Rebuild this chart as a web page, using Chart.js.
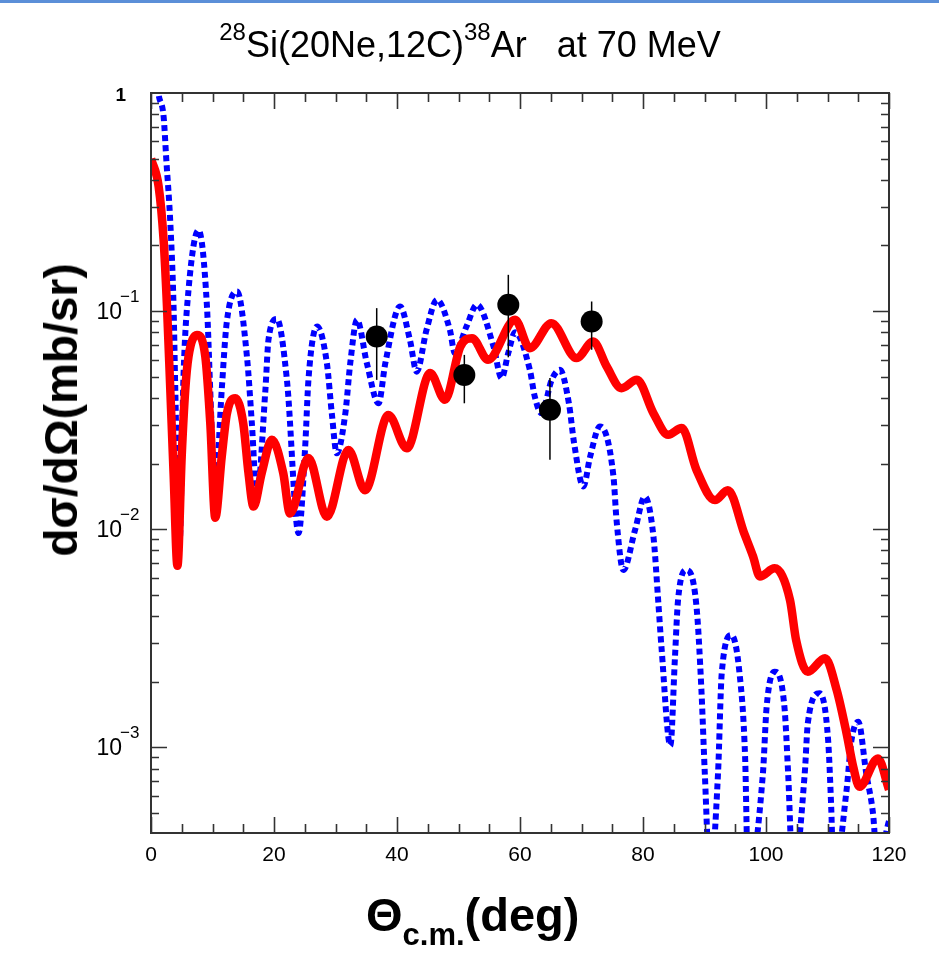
<!DOCTYPE html>
<html>
<head>
<meta charset="utf-8">
<script src="https://cdn.jsdelivr.net/npm/chart.js@4.4.0/dist/chart.umd.min.js"></script>
<style>
  html, body { margin: 0; padding: 0; background: #fff; }
  body { width: 939px; height: 976px; position: relative; overflow: hidden; font-family: 'Liberation Sans', Arial, sans-serif; color: #000; }
  .topbar { position: absolute; left: 0; top: 0; width: 939px; height: 3px; background: #5b8fd8; }
  #plot { position: absolute; left: 0; top: 0; }
  .title { position: absolute; left: 470px; top: 27px; transform: translateX(-50%); white-space: nowrap; font-size: 36px; line-height: 36px; }
  .title .sup { font-size: 24px; position: relative; top: -17px; }
  .ytitle { position: absolute; left: 61px; top: 410px; transform: translate(-50%, -50%) rotate(-90deg); white-space: nowrap; font-size: 46px; font-weight: bold; line-height: 46px; }
  .xtitle { position: absolute; left: 366px; top: 891px; white-space: nowrap; font-size: 47px; font-weight: bold; line-height: 47px; }
  .xtitle .sub { font-size: 31px; position: relative; top: 14px; }
</style>
</head>
<body>
<div class="topbar"></div>
<canvas id="plot" width="939" height="976"></canvas>
<div class="title"><span class="sup">28</span>Si(20Ne,12C)<span class="sup">38</span>Ar&nbsp;&nbsp;&nbsp;at 70 MeV</div>
<div class="ytitle">dσ/dΩ(mb/sr)</div>
<div class="xtitle">Θ<span class="sub">c.m.</span>(deg)</div>
<script>
// measured angular distribution (deg, mb/sr) with vertical error bars
const expAngle = [36.7, 50.95, 58.1, 64.87, 71.65];
const expValue = [0.0765, 0.0510, 0.1069, 0.0353, 0.0896];
const expLow   = [0.0484, 0.0378, 0.0614, 0.0208, 0.0665];
const expHigh  = [0.1032, 0.0630, 0.1467, 0.0493, 0.1107];

// solid red calculation
const redAngle = [0, 1.24, 2.05, 2.6, 3.14, 3.67, 4.3, 4.99, 5.57, 6.1, 7.47, 8.83, 9.64, 10.45,
  11.5, 12.35, 13.7, 15.0, 15.85, 16.67, 18.0, 19.66, 21.5, 22.6, 25.6, 28.6, 32.1, 34.8,
  38.6, 41.6, 45.4, 47.8, 50.3, 52.2, 54.8, 59.2, 61.6, 65.1, 69.2, 71.9, 74.1, 76.5, 79.0,
  81.7, 84.1, 86.3, 88.7, 91.7, 93.8, 96.5, 97.9, 99.0, 101.4, 103.9, 104.9, 106.8, 109.6,
  111.5, 113.1, 114.2, 115.2, 118.2, 120];
const redValue = [0.50, 0.373, 0.212, 0.105, 0.0435, 0.0181, 0.0068, 0.0215, 0.0435, 0.0619, 0.0778, 0.0619, 0.0306, 0.0113,
  0.0215, 0.034, 0.0399, 0.0306, 0.0181, 0.0127, 0.0181, 0.0257, 0.0181, 0.0118, 0.0212, 0.0114, 0.0231, 0.0151,
  0.0334, 0.0235, 0.052, 0.0392, 0.0688, 0.0752, 0.0598, 0.0912, 0.0676, 0.0881, 0.0609, 0.0726, 0.0557, 0.0443, 0.0484,
  0.034, 0.0271, 0.0291, 0.0187, 0.0136, 0.0151, 0.0095, 0.0075, 0.00607, 0.00662, 0.00474, 0.0031, 0.00222, 0.00256,
  0.00183, 0.00116, 0.00081, 0.00066, 0.00089, 0.00064];

// dotted blue calculation
const blueAngle = [0, 0.6, 1.2, 2.05, 2.49, 3.14, 3.67, 3.95, 4.6, 5.3, 6.1, 7.73, 9.1, 9.63, 10.4,
  11.5, 12.3, 14.0, 15.6, 16.4, 17.2, 18.6, 19.1, 20.47, 22.1, 24.0, 25.07, 25.6, 27.0,
  28.6, 29.4, 30.2, 31.6, 32.4, 33.5, 35.1, 37.0, 38.1, 40.5, 42.1, 43.2, 44.8, 46.5,
  48.6, 49.4, 51.3, 53.0, 55.7, 57.0, 58.1, 59.2, 61.6, 62.4, 63.5, 65.15, 66.5,
  67.95, 68.8, 70.3, 71.4, 73.0, 75.2, 75.7, 76.8, 78.7, 80.3, 81.7, 82.5, 83.0, 84.45,
  85.2, 85.7, 87.1, 88.7, 89.5, 90.05, 90.9, 92.2, 92.8, 94.4, 95.7, 96.6, 97.1,
  99.5, 100.1, 101.4, 103.0, 103.6, 104.4, 106.3, 106.8, 108.7, 110.1, 110.6, 111.0,
  113.1, 113.9, 115.0, 116.3, 117.4, 118.1, 120];
const blueValue = [2.5, 1.5, 1.0, 0.78, 0.494, 0.254, 0.105, 0.0435, 0.008, 0.052, 0.125, 0.235, 0.105, 0.0435, 0.0144,
  0.0435, 0.088, 0.123, 0.0619, 0.0306, 0.0142, 0.0435, 0.0738, 0.092, 0.0484, 0.0096, 0.0239, 0.0484, 0.085,
  0.0577, 0.034, 0.0223, 0.034, 0.0577, 0.0912, 0.0577, 0.0378, 0.0577, 0.105, 0.0738, 0.0528, 0.082, 0.1127,
  0.082, 0.0642, 0.085, 0.107, 0.0688, 0.0493, 0.0643, 0.08, 0.0538, 0.0406, 0.034, 0.0484, 0.0538,
  0.0378, 0.0248, 0.0157, 0.0215, 0.0296, 0.0174, 0.011, 0.0065, 0.0099, 0.0141, 0.00925, 0.00458, 0.00289, 0.00102,
  0.0026, 0.00474, 0.0065, 0.00442, 0.00183, 0.00076, 0.00025, 0.00076, 0.00218, 0.00327, 0.00218, 0.000906, 0.00025,
  0.00076, 0.00153, 0.00222, 0.00153, 0.00076, 0.00025, 0.00076, 0.00129, 0.00177, 0.00108, 0.000534, 0.00025,
  0.000637, 0.00108, 0.00131, 0.00076, 0.000498, 0.0003, 0.00046];

// axis setup
const xMin = 0, xMax = 120;
const yMin = 4.05e-4, yMax = 1;
const xTickLabels = [0, 20, 40, 60, 80, 100, 120];
const xMinorStep = 5;
const yDecades = [1, 0.1, 0.01, 0.001];
const yDecadeLabels = ['1', '10|-1', '10|-2', '10|-3'];

const toPoints = (xs, ys) => xs.map((x, i) => ({ x: x, y: ys[i] }));

const FONT = "'Liberation Sans', Arial, sans-serif";

// frame, inward ticks on all four sides, y labels and error bars
const framePlugin = {
  id: 'frame',
  afterDatasetsDraw(chart) {
    const ctx = chart.ctx;
    const xs = chart.scales.x, ys = chart.scales.y;
    ctx.save();
    ctx.strokeStyle = '#000';
    ctx.lineWidth = 1.5;
    for (let i = 0; i < expAngle.length; i++) {
      const px = xs.getPixelForValue(expAngle[i]);
      ctx.beginPath();
      ctx.moveTo(px, ys.getPixelForValue(expHigh[i]));
      ctx.lineTo(px, ys.getPixelForValue(expLow[i]));
      ctx.stroke();
    }
    ctx.restore();
  },
  afterDraw(chart) {
    const ctx = chart.ctx;
    const a = chart.chartArea;
    const xs = chart.scales.x, ys = chart.scales.y;
    ctx.save();
    ctx.strokeStyle = '#333';
    ctx.lineWidth = 2;
    ctx.strokeRect(a.left, a.top, a.right - a.left, a.bottom - a.top);

    ctx.beginPath();
    for (let v = xMin; v <= xMax; v += xMinorStep) {
      const px = Math.round(xs.getPixelForValue(v)) + 0.5;
      const len = xTickLabels.includes(v) ? 16 : 9;
      ctx.moveTo(px, a.bottom); ctx.lineTo(px, a.bottom - len);
      ctx.moveTo(px, a.top); ctx.lineTo(px, a.top + len);
    }
    for (const d of yDecades) {
      for (let m = 1; m <= 9; m++) {
        const v = d * m / 10;
        if (v < yMin || v > yMax) continue;
        const py = Math.round(ys.getPixelForValue(v)) + 0.5;
        const len = m === 1 ? 16 : 8;
        ctx.moveTo(a.left, py); ctx.lineTo(a.left + len, py);
        ctx.moveTo(a.right, py); ctx.lineTo(a.right - len, py);
      }
    }
    ctx.lineWidth = 1.6;
    ctx.stroke();

    // decade labels: "10" with raised exponent
    ctx.fillStyle = '#000';
    ctx.textBaseline = 'alphabetic';
    yDecades.forEach((d, i) => {
      const py = ys.getPixelForValue(d);
      const parts = yDecadeLabels[i].split('|');
      if (parts.length === 1) {
        ctx.font = 'bold 19px ' + FONT;
        ctx.textAlign = 'right';
        ctx.fillText(parts[0], 126, py + 8);
        return;
      }
      ctx.font = '23px ' + FONT;
      ctx.textAlign = 'right';
      ctx.fillText(parts[0], 122, py + 8);
      ctx.font = '17px ' + FONT;
      ctx.textAlign = 'left';
      ctx.fillText(parts[1].replace('-', '\u2212'), 120, py - 9);
    });
    ctx.restore();
  }
};

new Chart(document.getElementById('plot'), {
  type: 'line',
  data: {
    datasets: [
      {
        label: 'data',
        data: toPoints(expAngle, expValue),
        showLine: false,
        pointRadius: 11,
        pointBackgroundColor: '#000',
        pointBorderWidth: 0,
        order: 0
      },
      {
        label: 'red',
        data: toPoints(redAngle, redValue),
        borderColor: '#ff0000',
        borderWidth: 8.5,
        borderJoinStyle: 'round',
        pointRadius: 0,
        cubicInterpolationMode: 'monotone',
        clip: 0,
        order: 1
      },
      {
        label: 'blue',
        data: toPoints(blueAngle, blueValue),
        borderColor: '#0000ff',
        borderWidth: 6,
        borderDash: [6, 4],
        pointRadius: 0,
        cubicInterpolationMode: 'monotone',
        clip: 0,
        order: 2
      }
    ]
  },
  options: {
    responsive: false,
    animation: false,
    devicePixelRatio: 1,
    layout: { padding: { top: 93, right: 50, left: 0, bottom: 0 } },
    plugins: { legend: { display: false }, tooltip: { enabled: false } },
    scales: {
      x: {
        type: 'linear',
        min: xMin,
        max: xMax,
        grid: { display: false, drawTicks: false },
        border: { display: false },
        ticks: {
          stepSize: 20,
          autoSkip: false,
          maxRotation: 0,
          padding: 10,
          color: '#000',
          font: { size: 21, family: FONT }
        },
        afterFit(scale) { scale.height = 143; }
      },
      y: {
        type: 'logarithmic',
        min: yMin,
        max: yMax,
        grid: { display: false, drawTicks: false },
        border: { display: false },
        ticks: { display: false },
        afterFit(scale) { scale.width = 151; }
      }
    }
  },
  plugins: [framePlugin]
});
</script>
</body>
</html>
